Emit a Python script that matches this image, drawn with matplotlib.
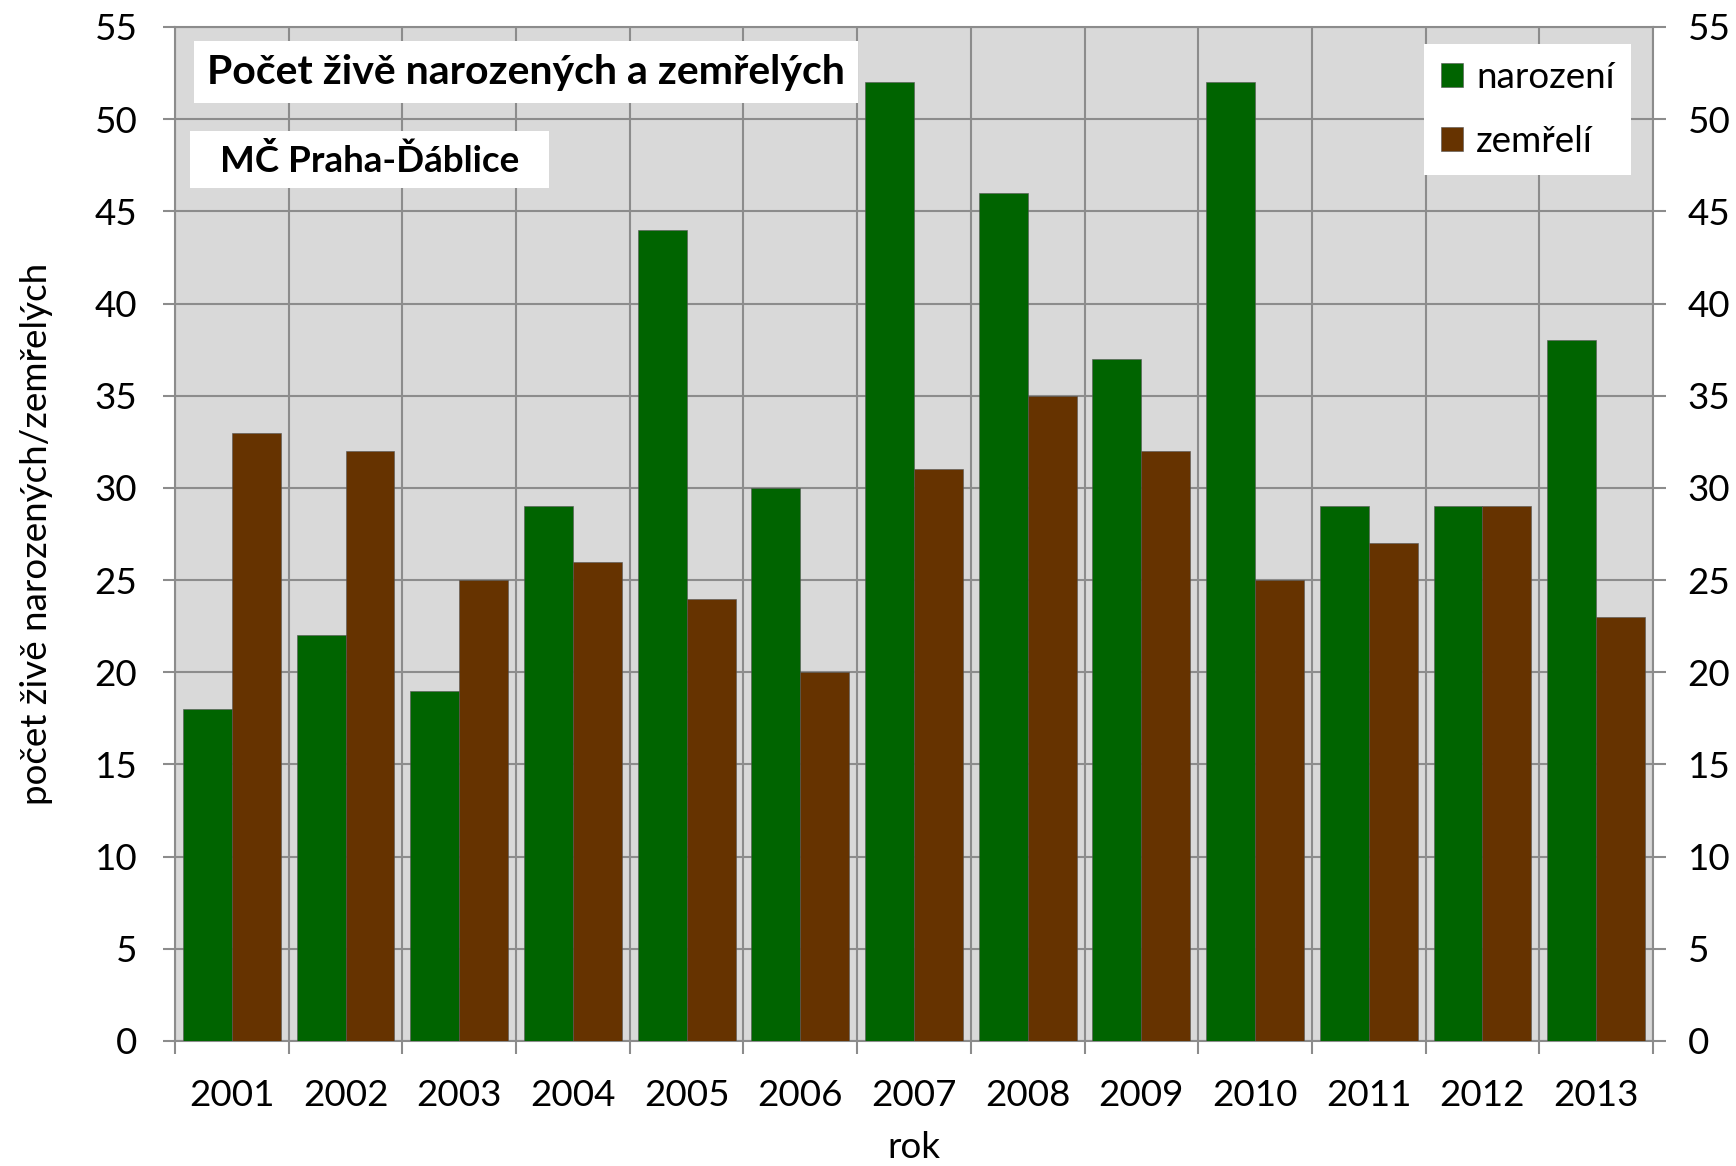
import numpy as np
import matplotlib.pyplot as plt
from matplotlib.patches import Rectangle

plt.rcParams['font.family'] = ['Lato', 'DejaVu Sans']

roky = ['2001', '2002', '2003', '2004', '2005', '2006', '2007',
        '2008', '2009', '2010', '2011', '2012', '2013']
narozeni = [18, 22, 19, 29, 44, 30, 52, 46, 37, 52, 29, 29, 38]
zemreli = [33, 32, 25, 26, 24, 20, 31, 35, 32, 25, 27, 29, 23]

green = '#006400'
brown = '#663300'
gray = '#8c8c8c'
fs = 26.5

fig = plt.figure(figsize=(17.36, 11.66), dpi=100)
ax = fig.add_axes([175/1736, 1 - 1041/1166, (1653-175)/1736, (1041-27)/1166])
ax.set_facecolor('#d9d9d9')

x = np.arange(len(roky))
w = 0.43
ax.bar(x - w/2, narozeni, w, color=green, label='narození', edgecolor='#555555', linewidth=0.4, zorder=3)
ax.bar(x + w/2, zemreli, w, color=brown, label='zemřelí', edgecolor='#555555', linewidth=0.4, zorder=3)

ax.set_xlim(-0.5, len(roky) - 0.5)
ax.set_ylim(0, 55)
ax.set_yticks(range(0, 56, 5))
ax.set_xticks(x)
ax.set_xticklabels(roky)
ax.set_xticks(np.arange(-0.5, len(roky)), minor=True)
ax.tick_params(axis='x', which='major', length=0, pad=27, labelsize=fs)
ax.tick_params(axis='x', which='minor', length=9, width=1.5, color=gray)
ax.tick_params(axis='y', length=9, width=1.5, color=gray, pad=18, labelsize=fs)
ax.grid(axis='y', color=gray, linewidth=1.5, zorder=0)
ax.grid(axis='x', which='minor', color=gray, linewidth=1.5, zorder=0)
ax.set_axisbelow(True)
for s in ax.spines.values():
    s.set_color(gray)
    s.set_linewidth(1.5)

ax2 = ax.twinx()
ax2.set_ylim(0, 55)
ax2.set_yticks(range(0, 56, 5))
ax2.tick_params(axis='y', length=9, width=1.5, color=gray, pad=16, labelsize=fs)
for s in ax2.spines.values():
    s.set_visible(False)

ax.set_xlabel('rok', fontsize=fs, labelpad=14)
ax.set_ylabel('počet živě narozených/zemřelých', fontsize=fs, labelpad=30)

# title boxes
ax.add_patch(Rectangle((0.0129, 0.925), 0.4492, 0.061, transform=ax.transAxes,
                       facecolor='white', edgecolor='none', zorder=5))
ax.text(0.2375, 0.9556, 'Počet živě narozených a zemřelých', transform=ax.transAxes,
        fontsize=29.5, fontweight='bold', va='center', ha='center', zorder=6)
ax.add_patch(Rectangle((0.0101, 0.841), 0.2429, 0.056, transform=ax.transAxes,
                       facecolor='white', edgecolor='none', zorder=5))
ax.text(0.1317, 0.868, 'MČ Praha-Ďáblice', transform=ax.transAxes,
        fontsize=26.5, fontweight='bold', va='center', ha='center', zorder=6)

leg = ax.legend(loc='upper right', bbox_to_anchor=(0.9851, 0.983), fontsize=fs,
                frameon=True, fancybox=False, handlelength=0.6, handleheight=0.6,
                labelspacing=0.85, borderpad=0.45, handletextpad=0.35,
                borderaxespad=0)
leg.get_frame().set_edgecolor('none')
leg.get_frame().set_facecolor('white')
leg.get_frame().set_alpha(1)
leg.set_zorder(6)

fig.savefig('out.png', dpi=100)
